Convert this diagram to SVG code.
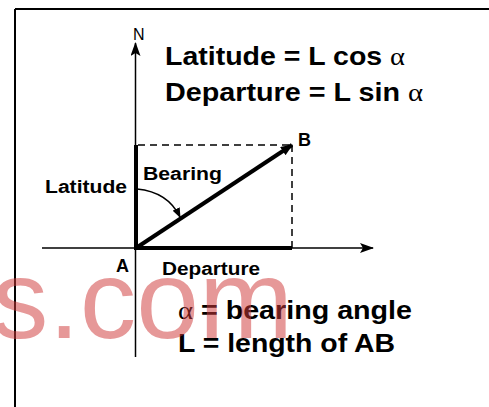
<svg xmlns="http://www.w3.org/2000/svg" width="489" height="407" viewBox="0 0 489 407">
  <defs>
    <style>
      .lbl { font-family: "Liberation Sans", Arial, sans-serif; fill: #000; }
      .big { font-size: 25px; font-weight: bold; }
      .small { font-size: 18px; font-weight: bold; }
      .greek { font-family: "Liberation Serif", "Times New Roman", serif; font-weight: normal; }
      .thin { stroke: #000; stroke-width: 1.5; fill: none; }
      .thick { stroke: #000; stroke-width: 4; fill: none; }
      .dash { stroke: #000; stroke-width: 1.5; fill: none; stroke-dasharray: 7 5; }
    </style>
    <marker id="axisHead" viewBox="0 0 14 10" refX="13" refY="5" markerWidth="14" markerHeight="10" markerUnits="userSpaceOnUse" orient="auto">
      <path d="M0,0 L14,5 L0,10 L3,5 Z" fill="#000"/>
    </marker>
    <marker id="bHead" viewBox="0 0 12 10" refX="11" refY="5" markerWidth="12" markerHeight="10" markerUnits="userSpaceOnUse" orient="auto">
      <path d="M0,0 L12,5 L0,10 Z" fill="#000"/>
    </marker>
    <marker id="arcHead" viewBox="0 0 10 8" refX="9" refY="4" markerWidth="10" markerHeight="8" markerUnits="userSpaceOnUse" orient="auto">
      <path d="M0,0 L10,4 L0,8 Z" fill="#000"/>
    </marker>
  </defs>
  <rect width="489" height="407" fill="#fff"/>

  <!-- frame (top and left borders) -->
  <g id="frame">
    <line x1="15" y1="9" x2="489" y2="9" stroke="#000" stroke-width="2"/>
    <line x1="15" y1="9" x2="15" y2="407" stroke="#000" stroke-width="2"/>
  </g>

  <g id="connectors">
    <!-- N axis -->
    <line class="thin" x1="135.5" y1="357" x2="135.5" y2="43" marker-end="url(#axisHead)"/>
    <!-- E axis -->
    <line class="thin" x1="42" y1="248" x2="373" y2="248" marker-end="url(#axisHead)"/>
    <!-- latitude thick -->
    <line class="thick" x1="136" y1="248" x2="136" y2="145"/>
    <!-- departure thick -->
    <line class="thick" x1="134" y1="248" x2="292" y2="248"/>
    <!-- dashed -->
    <line class="dash" x1="138" y1="145" x2="292" y2="145"/>
    <line class="dash" x1="292" y1="145" x2="292" y2="248"/>
    <!-- AB -->
    <line class="thick" x1="136" y1="248" x2="292" y2="145" marker-end="url(#bHead)"/>
    <!-- bearing arc -->
    <path class="thin" d="M137,189 Q168,192 180,217" marker-end="url(#arcHead)"/>
  </g>

  <g id="node-N"><text class="lbl" x="133" y="40" font-size="16">N</text></g>
  <g id="node-A"><text class="lbl small" x="116" y="272" font-size="16">A</text></g>
  <g id="node-B"><text class="lbl small" x="298" y="146" font-size="16">B</text></g>
  <g id="label-latitude"><text class="lbl small" x="45" y="193" textLength="82" lengthAdjust="spacingAndGlyphs">Latitude</text></g>
  <g id="label-bearing"><text class="lbl small" x="143" y="180" textLength="79" lengthAdjust="spacingAndGlyphs">Bearing</text></g>
  <g id="label-departure"><text class="lbl small" x="162" y="275" textLength="98" lengthAdjust="spacingAndGlyphs">Departure</text></g>

  <g id="formulas">
    <text class="lbl big" x="165" y="65" textLength="240" lengthAdjust="spacingAndGlyphs">Latitude = L cos <tspan class="greek">α</tspan></text>
    <text class="lbl big" x="165" y="101" textLength="258" lengthAdjust="spacingAndGlyphs">Departure = L sin <tspan class="greek">α</tspan></text>
    <text class="lbl big" x="178" y="319" textLength="234" lengthAdjust="spacingAndGlyphs"><tspan class="greek">α</tspan> = bearing angle</text>
    <text class="lbl big" x="178" y="352" textLength="217" lengthAdjust="spacingAndGlyphs">L = length of AB</text>
  </g>

  <g id="watermark">
    <text x="-8" y="338" font-family="Liberation Sans, Arial, sans-serif" font-size="112" fill="#d03a3a" fill-opacity="0.52" textLength="301" lengthAdjust="spacingAndGlyphs">s.com</text>
  </g>
</svg>
